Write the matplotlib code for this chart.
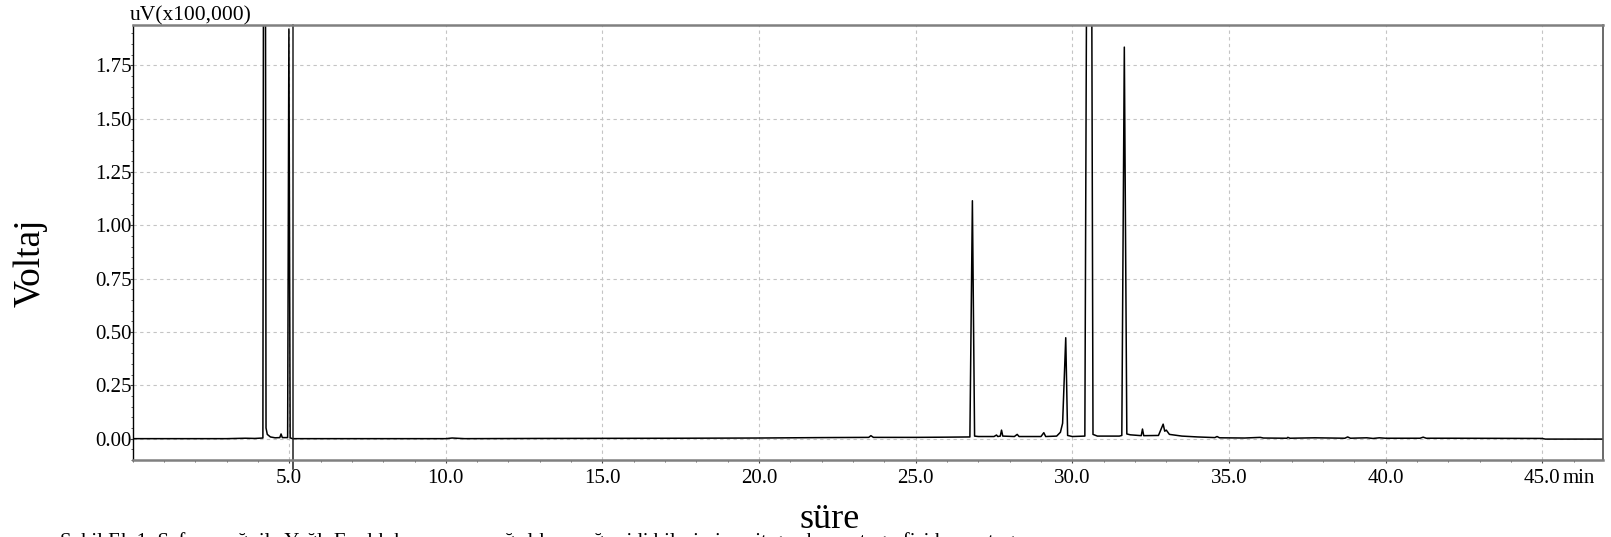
import numpy as np
import matplotlib
matplotlib.use("Agg")
import matplotlib.pyplot as plt
from matplotlib.ticker import MultipleLocator, FixedLocator, FixedFormatter

plt.rcParams['font.family'] = ['Liberation Serif', 'DejaVu Serif']

# retention time (min) / detector signal (uV x 100,000)
time_pts = [0.0, 3.0, 3.6, 3.9, 4.16, 4.21, 4.26, 4.30, 4.40, 4.55, 4.70, 4.74, 4.78, 4.95,
            4.99, 5.03, 5.10, 7.0, 10.0, 10.2, 10.6, 13.0, 17.5, 20.0, 22.0, 23.5, 23.57,
            23.65, 25.0, 26.0, 26.73, 26.81, 26.88, 27.0, 27.5, 27.58, 27.62, 27.70, 27.74,
            27.78, 28.15, 28.24, 28.30, 29.0, 29.09, 29.15, 29.50, 29.62, 29.69, 29.79,
            29.85, 30.0, 30.40, 30.55, 30.66, 30.80, 31.50, 31.58, 31.66, 31.74, 31.85,
            32.20, 32.24, 32.28, 32.75, 32.90, 32.95, 33.00, 33.10, 33.50, 34.00, 34.55,
            34.62, 34.70, 35.50, 36.00, 36.10, 36.85, 36.88, 36.95, 37.74, 38.70, 38.79,
            38.88, 39.40, 39.60, 39.80, 40.00, 41.10, 41.20, 41.30, 42.0, 45.0, 45.1, 46.95]
signal = [0.000, 0.000, 0.002, 0.001, 0.003, 6.000, 0.050, 0.020, 0.008, 0.004, 0.005, 0.022,
          0.005, 0.005, 1.920, 0.004, 0.000, 0.000, 0.000, 0.003, 0.000, 0.001, 0.002, 0.003,
          0.005, 0.006, 0.014, 0.006, 0.006, 0.007, 0.008, 1.115, 0.012, 0.010, 0.010, 0.017,
          0.010, 0.012, 0.040, 0.012, 0.010, 0.020, 0.010, 0.010, 0.028, 0.010, 0.012, 0.030,
          0.072, 0.473, 0.015, 0.010, 0.012, 5.800, 0.020, 0.012, 0.012, 0.015, 1.835, 0.022,
          0.018, 0.014, 0.045, 0.014, 0.015, 0.068, 0.035, 0.040, 0.020, 0.012, 0.008, 0.005,
          0.010, 0.004, 0.003, 0.006, 0.003, 0.002, 0.006, 0.002, 0.004, 0.002, 0.008, 0.002,
          0.004, 0.001, 0.004, 0.002, 0.002, 0.007, 0.002, 0.002, 0.001, -0.002, -0.002]

marker_time = 5.11
x_ticks = [5.0, 10.0, 15.0, 20.0, 25.0, 30.0, 35.0, 40.0, 45.0]
x_tick_labels = ["5.0", "10.0", "15.0", "20.0", "25.0", "30.0", "35.0", "40.0", "45.0"]
y_ticks = [0.00, 0.25, 0.50, 0.75, 1.00, 1.25, 1.50, 1.75]
y_tick_labels = ["0.00", "0.25", "0.50", "0.75", "1.00", "1.25", "1.50", "1.75"]
caption = ("Şekil Ek 1. Safran yağı ile Yağlı Fındık karışımının ağırlıkça yağ asidi "
           "bileşimine ait gaz kromatografisi kromatogramı")

fig = plt.figure(figsize=(16.11, 5.37), dpi=100)
ax = fig.add_axes([0.0823, 0.1434, 0.9129, 0.8106])

ax.plot(time_pts, signal, color="black", linewidth=1.1)
# integration/event marker line, runs past the bottom spine
ax.axvline(marker_time, ymin=-0.02, ymax=1.0, color="#202020", linewidth=1.1, clip_on=False)

ax.set_xlim(0, 46.95)
ax.set_ylim(-0.1, 1.94)

ax.xaxis.set_major_locator(FixedLocator(x_ticks))
ax.xaxis.set_major_formatter(FixedFormatter(x_tick_labels))
ax.xaxis.set_minor_locator(MultipleLocator(1.0))
ax.yaxis.set_major_locator(FixedLocator(y_ticks))
ax.yaxis.set_major_formatter(FixedFormatter(y_tick_labels))
ax.yaxis.set_minor_locator(MultipleLocator(0.05))

ax.tick_params(axis="both", which="major", labelsize=15, length=2.2, width=0.8, color="#404040")
ax.tick_params(axis="both", which="minor", length=1.4, width=0.7, color="#606060")
ax.tick_params(axis="x", which="major", pad=4.0)
ax.tick_params(axis="y", which="major", pad=-1.5)

ax.grid(True, which="major", color="#c4c4c4", linestyle=(0, (3, 3)), linewidth=0.8)
ax.set_axisbelow(True)

ax.spines["left"].set_color("black")
ax.spines["left"].set_linewidth(1.0)
ax.spines["top"].set_color("#808080")
ax.spines["top"].set_linewidth(1.8)
ax.spines["bottom"].set_color("#808080")
ax.spines["bottom"].set_linewidth(1.8)
ax.spines["right"].set_color("#505050")
ax.spines["right"].set_linewidth(1.2)

# unit after the last tick label
ax.annotate("min", xy=(45.0, 0), xycoords=("data", "axes fraction"), xytext=(14.5, -6.2),
            textcoords="offset points", ha="left", va="top", fontsize=15)

fig.text(130 / 1611, 1 - 20 / 537, "uV(x100,000)", ha="left", va="baseline", fontsize=15.5)
fig.text(30 / 1611, 1 - 263 / 537, "Voltaj", rotation=90, ha="center", va="center", fontsize=27)
fig.text(830 / 1611, 1 - 528 / 537, "süre", ha="center", va="baseline", fontsize=26)
# caption is cut off by the bottom edge in the original
fig.text(60 / 1611, 1 - 547 / 537, caption, ha="left", va="baseline", fontsize=15)

fig.savefig("out.png", dpi=100)
